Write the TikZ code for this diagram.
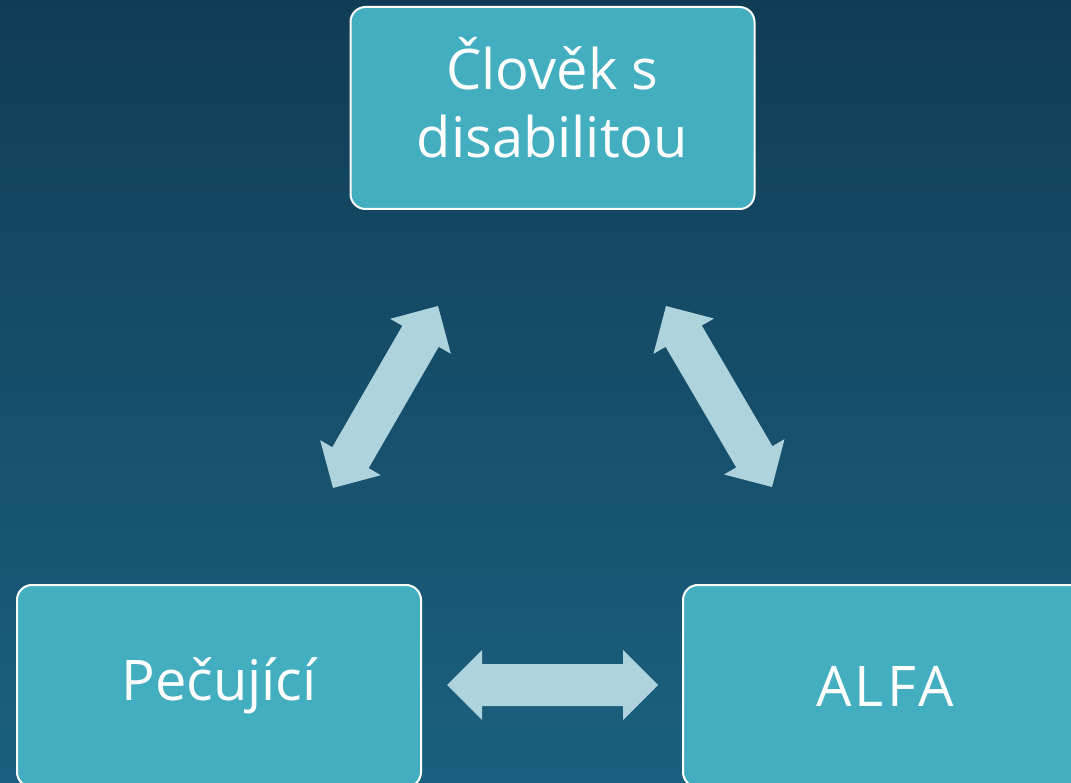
\documentclass[tikz,border=0pt]{standalone}
\usepackage{fontspec}
\setmainfont{Open Sans}
\usetikzlibrary{calc}
\definecolor{bgtop}{HTML}{103D55}
\definecolor{bgbot}{HTML}{1B6080}
\definecolor{boxfill}{HTML}{42AEBF}
\definecolor{arrowfill}{HTML}{AFD3DC}
\newcommand\dblarrowpoly[2]{%
  \fill[arrowfill]
    (#1)
    -- ($($(#1)!35pt!(#2)$)!35pt!90:(#2)$)
    -- ($($(#1)!35pt!(#2)$)!21pt!90:(#2)$)
    -- ($($(#2)!35pt!(#1)$)!21pt!-90:(#1)$)
    -- ($($(#2)!35pt!(#1)$)!35pt!-90:(#1)$)
    -- (#2)
    -- ($($(#2)!35pt!(#1)$)!35pt!90:(#1)$)
    -- ($($(#2)!35pt!(#1)$)!21pt!90:(#1)$)
    -- ($($(#1)!35pt!(#2)$)!21pt!-90:(#2)$)
    -- ($($(#1)!35pt!(#2)$)!35pt!-90:(#2)$)
    -- cycle;}
\tikzset{
  boxnode/.style={rectangle, rounded corners=15pt, minimum width=404pt,
    minimum height=202pt, draw=white, line width=2pt, fill=boxfill,
    text=white, align=center, inner sep=0pt,
    font=\fontsize{56}{68}\selectfont}
}
\begin{document}
\begin{tikzpicture}[x=1pt,y=1pt]
\useasboundingbox (0,0) rectangle (1071,-783);
\clip (0,0) rectangle (1071,-783);
\shade[top color=bgtop, bottom color=bgbot] (0,0) rectangle (1071,-783);
\node[boxnode] (clovek) at (552.5,-108) {\raisebox{5pt}{\begin{tabular}{@{}c@{}}Člověk s\\disabilitou\end{tabular}}};
\node[boxnode] (pecujici) at (219,-686) {Pečující};
\node[boxnode] (alfa) at (885,-686) {\addfontfeature{LetterSpace=6}ALFA};
\coordinate (l1) at (333,-488);
\coordinate (l2) at (438,-306);
\coordinate (r1) at (666,-306);
\coordinate (r2) at (772,-487);
\coordinate (h1) at (447,-685);
\coordinate (h2) at (658,-685);
\dblarrowpoly{l1}{l2}
\dblarrowpoly{r1}{r2}
\dblarrowpoly{h1}{h2}
\end{tikzpicture}
\end{document}
